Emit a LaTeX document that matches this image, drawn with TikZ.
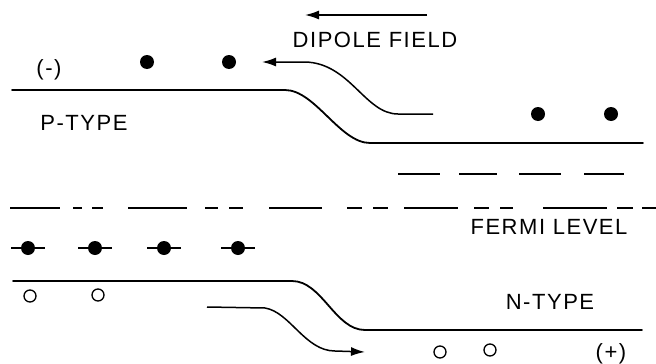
\documentclass[tikz,border=0pt]{standalone}
\usepackage{fontspec}
\newfontfamily\letterfont[LetterSpace=7]{Liberation Sans}
\usetikzlibrary{arrows.meta}
\begin{document}
\begin{tikzpicture}[
        x=1pt, y=-1pt,
        band/.style={line width=1.8pt, line cap=round},
        dashline/.style={line width=1.8pt},
        field/.style={line width=1.5pt, -{Latex[length=14pt,width=9pt]}},
        electron/.style={circle, fill, inner sep=0pt, minimum size=14pt},
        hole/.style={circle, draw, line width=1.3pt, inner sep=0pt, minimum size=12pt},
        lettering/.style={font=\letterfont\fontsize{22}{24}\selectfont, inner sep=0pt},
    ]
    \useasboundingbox (0,0) rectangle (656,364);
    % texts
    \node[lettering] (minus) at (49,70) {(-)};
    \node[lettering] (dipole) at (375,40) {DIPOLE FIELD};
    \node[lettering] (ptype) at (84,123) {P-TYPE};
    \node[lettering] (fermi) at (549,227) {FERMI LEVEL};
    \node[lettering] (ntype) at (550,302) {N-TYPE};
    \node[lettering] (plus) at (611,354) {(+)};
    % bands
    \draw[band] (12,90) -- (285,90) .. controls (315,90) and (340,143) .. (370,143) -- (643,143);
    \draw[band] (13,281) -- (292,281) .. controls (322,281) and (335,330) .. (365,330) -- (642,330);
    % empty levels
    \foreach \a/\b in {398/440,459/497,519/561,584/624}
        \draw[dashline] (\a,174) -- (\b,174);
    % fermi level
    \foreach \a/\b in {10/60,73/82,92/103,128/187,205/218,229/243,269/322,
                       347/362,373/388,404/458,474/489,500/513,543/607,617/633,642/656}
        \draw[dashline] (\a,208) -- (\b,208);
    % carriers
    \node[electron] (e1) at (147,62) {};
    \node[electron] (e2) at (229,62) {};
    \node[electron] (e3) at (538,114) {};
    \node[electron] (e4) at (611,114) {};
    \foreach \x [count=\i] in {28,95,164,238}{
        \node[electron] (d\i) at (\x,248) {};
        \draw[line width=1.3pt] ([xshift=-17pt]d\i.center) -- ([xshift=17pt]d\i.center);
    }
    \node[hole] (h1) at (30,296) {};
    \node[hole] (h2) at (98,295) {};
    \node[hole] (h3) at (440,352) {};
    \node[hole] (h4) at (490,350) {};
    % field arrows
    \coordinate (t0) at (427,15);
    \coordinate (t1) at (305,15);
    \draw[field] (t0) -- (t1);
    \coordinate (u0) at (433,114);
    \coordinate (u1) at (262,62);
    \draw[field] (u0) -- (398,114) .. controls (365,114) and (350,63) .. (305,62) -- (u1);
    \coordinate (l0) at (207,307);
    \coordinate (l1) at (365,352);
    \draw[field] (l0) -- (265,308) .. controls (290,312) and (305,351) .. (335,351) -- (l1);
\end{tikzpicture}
\end{document}
